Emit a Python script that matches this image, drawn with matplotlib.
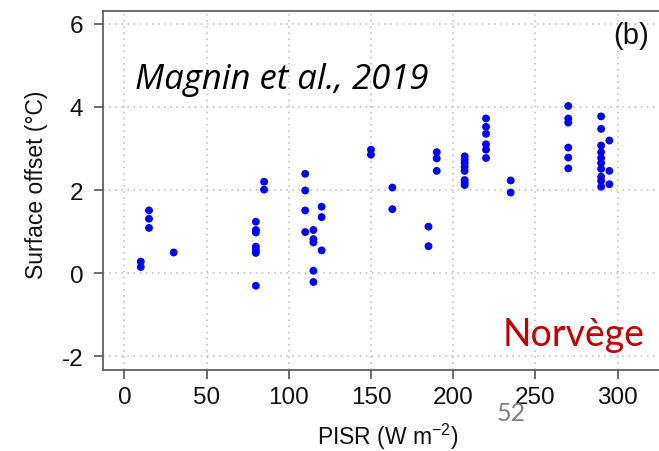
import matplotlib
matplotlib.use('Agg')
import matplotlib.pyplot as plt

# PISR (W m-2) for each logger
pisr = [10, 10,
        15, 15, 15,
        30,
        80, 80, 80, 80, 80, 80, 80,
        85, 85,
        110, 110, 110, 110,
        115, 115, 115, 115, 115,
        120, 120, 120,
        150, 150,
        163, 163,
        185, 185,
        190, 190, 190,
        207, 207, 207, 207, 207, 207, 207, 207,
        220, 220, 220, 220, 220, 220,
        235, 235,
        270, 270, 270, 270, 270, 270,
        290, 290, 290, 290, 290, 290, 290, 290, 290, 290,
        295, 295, 295]

# surface offset (degC)
offset = [0.28, 0.15,
          1.51, 1.31, 1.09,
          0.50,
          1.24, 1.04, 0.98, 0.64, 0.56, 0.49, -0.30,
          2.20, 2.01,
          2.39, 1.99, 1.51, 0.99,
          1.04, 0.82, 0.74, 0.06, -0.21,
          1.60, 1.35, 0.55,
          2.97, 2.85,
          2.06, 1.54,
          1.12, 0.65,
          2.91, 2.76, 2.46,
          2.81, 2.73, 2.65, 2.56, 2.46, 2.24, 2.18, 2.12,
          3.72, 3.52, 3.35, 3.10, 2.97, 2.77,
          2.23, 1.94,
          4.02, 3.72, 3.62, 3.02, 2.78, 2.52,
          3.77, 3.47, 3.07, 2.91, 2.77, 2.65, 2.51, 2.32, 2.22, 2.08,
          3.19, 2.46, 2.14]

x_ticks = [0, 50, 100, 150, 200, 250, 300]
y_ticks = [-2, 0, 2, 4, 6]

plt.rcParams['font.family'] = ['Liberation Sans', 'DejaVu Sans']
plt.rcParams['axes.unicode_minus'] = False
plt.rcParams['mathtext.fontset'] = 'custom'
plt.rcParams['mathtext.rm'] = 'Liberation Sans'
plt.rcParams['mathtext.it'] = 'Liberation Sans:italic'

fig = plt.figure(figsize=(6.59, 4.52), dpi=100)
ax = fig.add_axes([103.3 / 659, 1 - 371 / 452, 1 - 103.3 / 659, (371 - 11.7) / 452])

ax.scatter(pisr, offset, s=32, color='#0000ff', edgecolors='none', zorder=3)

ax.set_xlim(-12.8, 325.2)
ax.set_ylim(-2.325, 6.31)
ax.set_xticks(x_ticks)
ax.set_yticks(y_ticks)
ax.grid(True, color='#bbbbbb', linestyle=(0, (1, 3)), linewidth=1.1)

# R style box: left, top, bottom
for side in ['left', 'top', 'bottom']:
    ax.spines[side].set_color('#555555')
    ax.spines[side].set_linewidth(1.2)
ax.spines['right'].set_visible(False)
ax.tick_params(axis='both', length=6.5, width=1.2, color='#555555',
               labelsize=17.5, labelcolor='#111111')
ax.tick_params(axis='x', pad=5)
ax.tick_params(axis='y', pad=8)

fig.text(388 / 659, 1 - 437 / 452, 'PISR (W m$^{-2}$)', fontsize=16.5,
         ha='center', va='center', color='#111111')
fig.text(37 / 659, 1 - 185 / 452, 'Surface offset (°C)', fontsize=16.5,
         ha='center', va='center', rotation=90, color='#111111')

fig.text(631 / 659, 1 - 36 / 452, '(b)', fontsize=21, ha='center', va='center',
         color='#111111')
fig.text(135 / 659, 1 - 89 / 452, 'Magnin et al., 2019', fontsize=25,
         style='italic', family='Open Sans', ha='left', va='baseline')
fig.text(503 / 659, 1 - 346 / 452, 'Norvège', fontsize=27, family='Lato',
         color='#c00000', ha='left', va='baseline')
fig.text(511 / 659, 1 - 414 / 452, '52', fontsize=18, family='Lato',
         color='#808080', ha='center', va='center')

fig.savefig('out.png', dpi=100)
